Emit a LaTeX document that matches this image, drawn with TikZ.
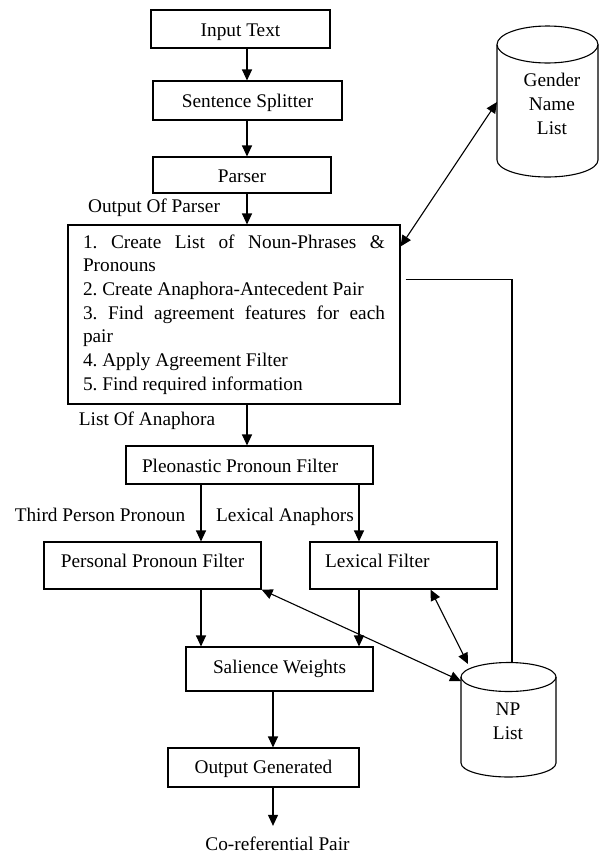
\documentclass[tikz,border=0pt]{standalone}
\usepackage{fontspec}
\setmainfont{Liberation Serif}
\usetikzlibrary{arrows.meta}
\setlength{\parindent}{0pt}
\frenchspacing

\begin{document}
\begin{tikzpicture}[x=1pt, y=-1pt, >={Triangle[length=11pt,width=10pt]},
    font=\fontsize{19.3}{23.7}\selectfont, line width=1.1pt,
    box/.style={draw, inner sep=0pt},
    onebox/.style={box, text height=16pt, text depth=2pt},
    lbl/.style={anchor=base, inner sep=0pt}]
\useasboundingbox (0,0) rectangle (600,855);
% x positions of the vertical arrows
\coordinate (xa) at (247,0);
\coordinate (xl) at (201,0);
\coordinate (xr) at (359,0);
\coordinate (xc) at (273,0);

\node[onebox, minimum width=179pt, minimum height=38pt] (input) at (240.5,29) {Input Text};
\node[onebox, minimum width=189pt, minimum height=39pt] (split) at (247.5,100.5) {Sentence Splitter};
\node[onebox, minimum width=178pt, minimum height=36pt] (parser) at (242,175) {Parser};
\node[box, minimum width=332pt, minimum height=179pt, text width=302pt,
      align=justify, inner xsep=15pt] (steps) at (234,314.5)
  {\tolerance=10000\relax\hyphenpenalty=10000\relax
   1. Create List of Noun-Phrases \&\linebreak Pronouns\par
   2. Create Anaphora-Antecedent Pair\par
   3. Find agreement features for each\linebreak pair\par
   4. Apply Agreement Filter\par
   5. Find required information};
\node[onebox, minimum width=247pt, minimum height=38pt, inner xsep=16pt] (pleo) at (249.5,465)
  {\makebox[215pt][l]{Pleonastic Pronoun Filter}};
\node[onebox, minimum width=217pt, minimum height=47pt, text height=10.5pt, text depth=7.5pt] (pers) at (152.5,565.5)
  {Personal Pronoun Filter};
\node[onebox, minimum width=187pt, minimum height=47pt, text height=10.5pt, text depth=7.5pt, inner xsep=15pt] (lex) at (403.5,565.5)
  {\makebox[157pt][l]{Lexical Filter}};
\node[onebox, minimum width=187pt, minimum height=44pt, text height=13pt, text depth=5pt] (sal) at (279.5,669) {Salience Weights};
\node[onebox, minimum width=191pt, minimum height=39pt, text height=14.5pt, text depth=3.5pt] (outgen) at (263.5,767.5) {Output Generated};

% labels
\node[lbl] (lop) at (154,212) {Output Of Parser};
\node[lbl] (loa) at (147,425) {List Of Anaphora};
\node[lbl] (tpp) at (100,521) {Third Person Pronoun};
\node[lbl] (lan) at (285,521) {Lexical Anaphors};
\node[lbl] (coref) at (277.5,850) {Co-referential Pair};

% gender name list
\draw (497,44.5) -- (497,160) arc[start angle=180, end angle=360, x radius=50.5pt, y radius=17pt] -- (598,44.5);
\draw (547.5,44.5) ellipse[x radius=50.5pt, y radius=18.5pt];
\node[align=center, inner sep=0pt] (gnl) at (552,104) {Gender\\Name\\List};
\coordinate (gnl-w) at (497,102);

% np list
\draw (461,677) -- (461,763) arc[start angle=180, end angle=360, x radius=47.5pt, y radius=14pt] -- (556,677);
\draw (508.5,677) ellipse[x radius=47.5pt, y radius=14.5pt];
\node[align=center, inner sep=0pt] (np) at (508,721) {NP\\List};
\coordinate (np-w) at (461,681);
\coordinate (np-n) at (468,664);
\coordinate (np-t) at (512,662.5);

\draw[->] (input.south -| xa) -- (split.north -| xa);
\draw[->] (split.south -| xa) -- (parser.north -| xa);
\draw[->] (parser.south -| xa) -- (steps.north -| xa);
\draw[->] (steps.south -| xa) -- (pleo.north -| xa);
\draw[->] (pleo.south -| xl) -- (pers.north -| xl);
\draw[->] (pleo.south -| xr) -- (lex.north -| xr);
\draw[->] (pers.south -| xl) -- (sal.north -| xl);
\draw[->] (lex.south -| xr) -- (sal.north -| xr);
\draw[->] (sal.south -| xc) -- (outgen.north -| xc);
\draw[->] (outgen.south -| xc) -- ([yshift=10pt]coref.north -| xc);

\draw[<->] (gnl-w) -- ([yshift=-22pt]steps.north east);
\draw[<->] (pers.south east) -- (np-w);
\draw[<->] ([xshift=27pt]lex.south) -- (np-n);
\draw ([xshift=5pt,yshift=-55pt]steps.north east) -| (np-t);
\end{tikzpicture}
\end{document}
